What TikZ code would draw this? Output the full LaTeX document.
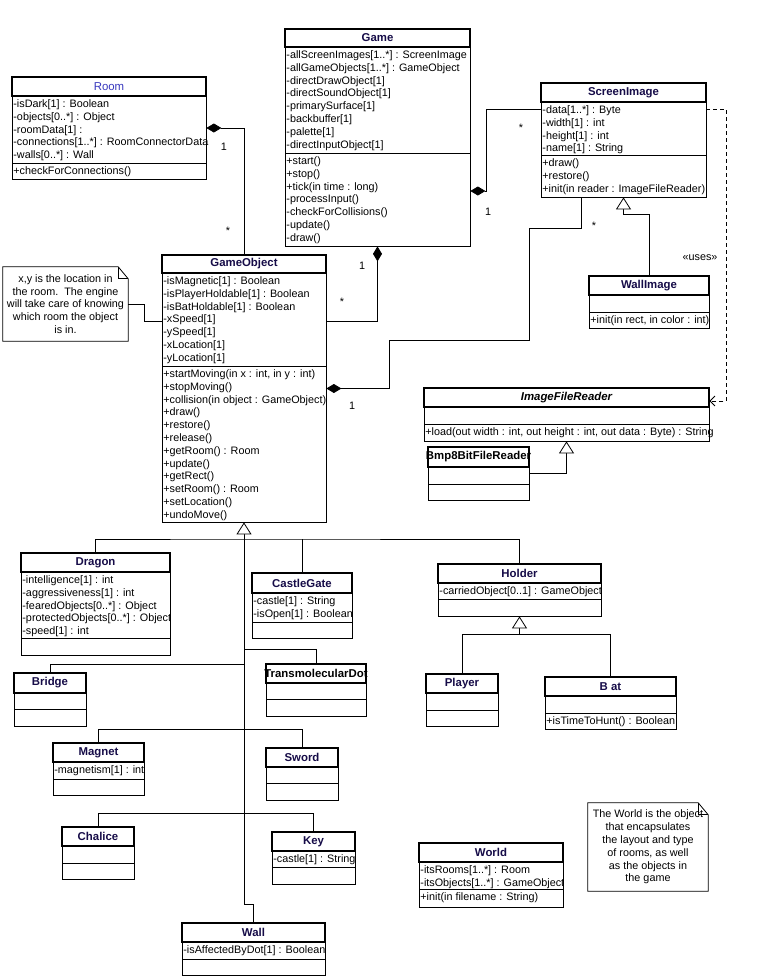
\documentclass[tikz,border=0pt]{standalone}
\usepackage{fontspec}
\setmainfont{Liberation Sans}
\usetikzlibrary{arrows.meta,calc}
\definecolor{navyt}{RGB}{22,12,72}
\definecolor{roomblue}{RGB}{55,55,190}
\newcommand\umlfont{\fontsize{10.8}{12.8}\selectfont}
\newcommand\umltitlefont{\fontsize{11.4}{12.8}\selectfont\bfseries}
\tikzset{
 clsbox/.style={draw, rectangle, inner sep=0pt, line width=0.8pt, fill=white},
 hdr/.style={line width=2.4pt},
 sepline/.style={line width=0.8pt},
 ttl/.style={font=\umltitlefont, text=navyt, inner sep=0pt},
 members/.style={anchor=north west, align=left, inner xsep=1.2pt, inner ysep=2.3pt, font=\umlfont},
 lbl/.style={font=\umlfont, inner sep=0pt},
 conn/.style={line width=0.8pt},
 comp/.style={conn, {Diamond[length=15pt,width=9pt]}-},
 gen/.style={conn, -{Triangle[open,length=12pt,width=15pt,fill=white]}},
 dep/.style={conn, dash pattern=on 4pt off 3pt, -{Straight Barb[length=5pt,width=10pt]}},
 notebox/.style={inner sep=0pt},
 notetext/.style={font=\umlfont, align=center, inner sep=0pt},
}
% name, x1, x2, ytop, yhead, ysep, ybot, title, attributes
\newcommand\umlclass[9]{%
  \node[clsbox, minimum width={(#3-#2)*1pt}, minimum height={(#7-#4)*1pt}] (#1) at ({(#2+#3)/2},{(#4+#7)/2}) {};
  \draw[hdr] (#2,#4) rectangle (#3,#5);
  \draw[sepline] (#2,#6) -- (#3,#6);
  \node[ttl] (#1-title) at ({(#2+#3)/2},{(#4+#5)/2}) {#8};
  \coordinate (#1-a) at (#2,#5);
  \coordinate (#1-o) at (#2,#6);
  \if\relax\detokenize{#9}\relax\else
  \node[members] (#1-attrs) at (#1-a) {\strut#9};
  \fi
}
\newcommand\umlops[2]{\node[members] (#1-ops) at (#1-o) {\strut#2};}
% name, x1, x2, y1, y2, text
\newcommand\umlnote[6]{%
  \node[notebox, minimum width={(#3-#2)*1pt}, minimum height={(#5-#4)*1pt}] (#1) at ({(#2+#3)/2},{(#4+#5)/2}) {};
  \draw[conn, fill=white] (#1.north west) -- ([xshift=-10pt]#1.north east) -- ([yshift=-12pt]#1.north east) -- (#1.south east) -- (#1.south west) -- cycle;
  \draw[conn] ([xshift=-10pt]#1.north east) -- ([xshift=-10pt,yshift=-12pt]#1.north east) -- ([yshift=-12pt]#1.north east);
  \node[notetext] (#1-text) at (#1.center) {#6};
}
\begin{document}
\begin{tikzpicture}[x=1pt,y=-1pt]
\useasboundingbox (0,0) rectangle (758,980);
\fill[white] (0,0) rectangle (758,980);

% ---------- classes ----------
\umlclass{room}{12}{206}{77}{96}{163}{179}{\textcolor{roomblue}{\mdseries Room}}{-isDark[1] : Boolean\\-objects[0..*] : Object\\-roomData[1] :\\-connections[1..*] : RoomConnectorData\\-walls[0..*] : Wall}
\umlops{room}{+checkForConnections()}

\umlclass{game}{285}{470}{29}{47}{153}{246}{Game}{-allScreenImages[1..*] : ScreenImage\\-allGameObjects[1..*] : GameObject\\-directDrawObject[1]\\-directSoundObject[1]\\-primarySurface[1]\\-backbuffer[1]\\-palette[1]\\-directInputObject[1]}
\umlops{game}{+start()\\+stop()\\+tick(in time : long)\\-processInput()\\-checkForCollisions()\\-update()\\-draw()}

\umlclass{scr}{541}{706}{83}{102}{155}{197}{ScreenImage}{-data[1..*] : Byte\\-width[1] : int\\-height[1] : int\\-name[1] : String}
\umlops{scr}{+draw()\\+restore()\\+init(in reader : ImageFileReader)}

\umlclass{gobj}{162}{326}{255}{273}{366}{522}{GameObject}{-isMagnetic[1] : Boolean\\-isPlayerHoldable[1] : Boolean\\-isBatHoldable[1] : Boolean\\-xSpeed[1]\\-ySpeed[1]\\-xLocation[1]\\-yLocation[1]}
\umlops{gobj}{+startMoving(in x : int, in y : int)\\+stopMoving()\\+collision(in object : GameObject)\\+draw()\\+restore()\\+release()\\+getRoom() : Room\\+update()\\+getRect()\\+setRoom() : Room\\+setLocation()\\+undoMove()}

\umlclass{wimg}{589}{709}{276}{295}{312}{328}{WallImage}{}
\umlops{wimg}{+init(in rect, in color : int)}

\umlclass{ifr}{424}{709}{388}{407}{424}{441}{\textcolor{black}{\itshape ImageFileReader}}{}
\umlops{ifr}{+load(out width : int, out height : int, out data : Byte) : String}

\umlclass{bmp}{428}{529}{447}{467}{484}{500}{\textcolor{black}{Bmp8BitFileReader}}{}

\umlclass{dragon}{21}{170}{553}{572}{638}{655}{Dragon}{-intelligence[1] : int\\-aggressiveness[1] : int\\-fearedObjects[0..*] : Object\\-protectedObjects[0..*] : Object\\-speed[1] : int}

\umlclass{castle}{252}{352}{573}{593}{622}{638}{CastleGate}{-castle[1] : String\\-isOpen[1] : Boolean}

\umlclass{holder}{438}{601}{564}{583}{599}{616}{Holder}{-carriedObject[0..1] : GameObject}

\umlclass{player}{426}{498}{674}{693}{710}{726}{Player}{}
\umlclass{bat}{545}{676}{677}{696}{713}{729}{B at}{}
\umlops{bat}{+isTimeToHunt() : Boolean}

\umlclass{tdot}{266}{366}{664}{683}{699}{716}{\textcolor{black}{TransmolecularDot}}{}
\umlclass{bridge}{14}{86}{673}{693}{709}{726}{Bridge}{}
\umlclass{magnet}{53}{144}{743}{762}{779}{795}{Magnet}{-magnetism[1] : int}
\umlclass{sword}{266}{338}{748}{767}{783}{800}{Sword}{}
\umlclass{chalice}{62}{134}{827}{846}{863}{879}{Chalice}{}
\umlclass{key}{272}{355}{832}{851}{867}{884}{Key}{-castle[1] : String}
\umlclass{wall}{182}{325}{923}{942}{959}{975}{Wall}{-isAffectedByDot[1] : Boolean}
\umlclass{world}{419}{563}{843}{862}{889}{907}{World}{-itsRooms[1..*] : Room\\-itsObjects[1..*] : GameObject}
\umlops{world}{+init(in filename : String)}

% ---------- notes ----------
\umlnote{note1}{3}{128}{267}{341}{x,y is the location in\\the room.\ \ The engine\\will take care of knowing\\which room the object\\is in.}
\umlnote{note2}{588}{708}{803}{891}{The World is the object\\that encapsulates\\the layout and type\\of rooms, as well\\as the objects in\\the game}

% ---------- associations ----------
\draw[comp] (room.east) -| (gobj.north);
\draw[comp] (game.south) |- ([yshift=67.5pt]gobj.east);
\draw[comp] ([yshift=-53.5pt]game.east) -- ++(16,0) |- ([yshift=31pt]scr.west);
\draw[comp] (gobj.east) -| (389,340) -| (529,228) -| ([xshift=-42.5pt]scr.south);
\draw[gen] (wimg.north) |- ([yshift=-17pt]scr.south) -- (scr.south);
\draw[dep] ([yshift=31pt]scr.east) -- ++(20,0) |- ([yshift=13.5pt]ifr.east);
\draw[gen] (bmp.east) -| (ifr.south);
\draw[conn] (note1.east) -- ++(16,0) |- ([yshift=67.5pt]gobj.west);

% ---------- generalization tree ----------
\coordinate (trunkbot) at (244,904);
\coordinate (j1) at (244,539);
\coordinate (j2) at (244,649);
\coordinate (j3) at (244,664);
\coordinate (j4) at (244,729);
\coordinate (j5) at (244,813);
\draw[gen] (wall.north) |- (trunkbot) -- (gobj.south);
\draw[conn] (dragon.north) |- (j1) -| (holder.north);
\draw[conn] (castle.north) -- (castle.north |- j1);
\draw[conn] (tdot.north) |- (j2);
\draw[conn] (bridge.north) |- (j3);
\draw[conn] (magnet.north) |- (sword.north |- j4) -- (sword.north);
\draw[conn] (chalice.north) |- (key.north |- j5) -- (key.north);
\coordinate (hj) at (519.5,634);
\draw[gen] (player.north) |- (hj) -- (holder.south);
\draw[conn] (bat.north) |- (hj);

% ---------- labels ----------
\node[lbl] (m1) at (224,147) {1};
\node[lbl] (m2) at (228,231) {*};
\node[lbl] (m3) at (362,266) {1};
\node[lbl] (m4) at (342,302) {*};
\node[lbl] (m5) at (521,128) {*};
\node[lbl] (m6) at (488,212) {1};
\node[lbl] (m7) at (352,406) {1};
\node[lbl] (m8) at (594,226) {*};
\node[lbl] (uses) at (700,258) {«uses»};
\end{tikzpicture}
\end{document}
